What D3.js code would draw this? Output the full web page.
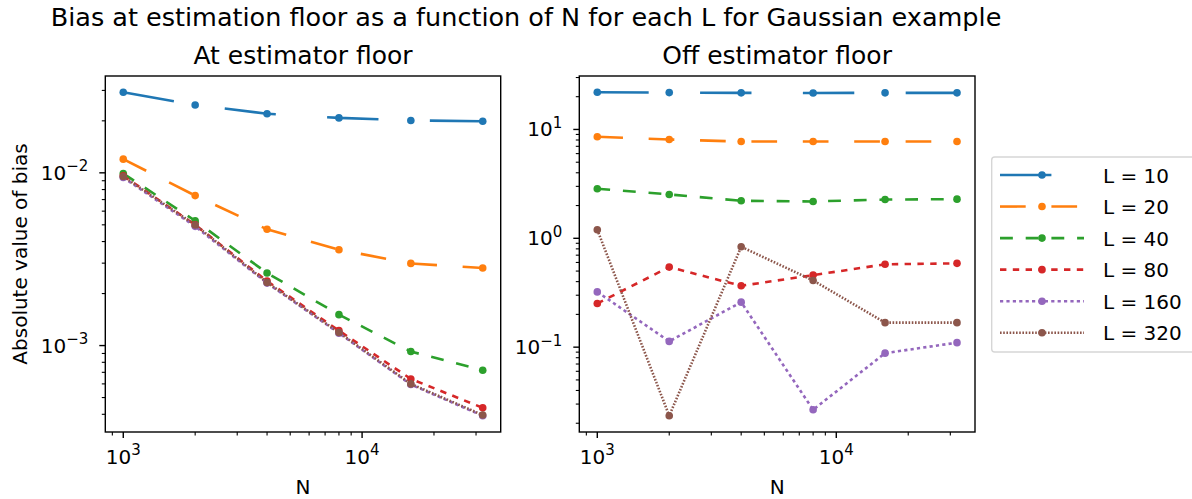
<!DOCTYPE html>
<html>
<head>
<meta charset="utf-8">
<script src="https://cdn.jsdelivr.net/npm/d3@7"></script>
<style>
  body { margin: 0; background: #fff; }
  svg { display: block; font-family: "DejaVu Sans", sans-serif; }
</style>
</head>
<body>
<div id="chart"></div>
<script>
const sampleSizes = [1000, 2000, 4000, 8000, 16000, 32000];
const seriesLabels = ['L = 10', 'L = 20', 'L = 40', 'L = 80', 'L = 160', 'L = 320'];

// |bias| at the estimator floor
const atFloorL10 = [0.0293, 0.0247, 0.0220, 0.0208, 0.0201, 0.0199];
const atFloorL20 = [0.0120, 0.00738, 0.00471, 0.00359, 0.00299, 0.00281];
const atFloorL40 = [0.0099, 0.00528, 0.00263, 0.00151, 0.000923, 0.000720];
const atFloorL80 = [0.0096, 0.0050, 0.00236, 0.00122, 0.000641, 0.000436];
const atFloorL160 = [0.0094, 0.0049, 0.00230, 0.00118, 0.000595, 0.000392];
const atFloorL320 = [0.00952, 0.00499, 0.00232, 0.00119, 0.000600, 0.000396];

// |bias| off the estimator floor
const offFloorL10 = [22.0, 21.8, 21.7, 21.6, 21.7, 21.7];
const offFloorL20 = [8.56, 8.09, 7.74, 7.74, 7.74, 7.74];
const offFloorL40 = [2.85, 2.53, 2.21, 2.18, 2.27, 2.29];
const offFloorL80 = [0.252, 0.544, 0.366, 0.459, 0.577, 0.589];
const offFloorL160 = [0.322, 0.113, 0.259, 0.0266, 0.0881, 0.110];
const offFloorL320 = [1.20, 0.0234, 0.836, 0.410, 0.168, 0.168];

const colors = ['#1f77b4', '#ff7f0e', '#2ca02c', '#d62728', '#9467bd', '#8c564b'];
const dashes = ['51.4,51.4', '25.7,25.7', '12.85,12.85', '6.4,6.4', '3.2,3.2', '1.6,1.6'];

const W = 1192, H = 499;
const panelTop = 76, panelBottom = 432;
const panels = [
  { title: 'At estimator floor', x0: 105.3, x1: 500.7, ylabel: 'Absolute value of bias',
    series: [atFloorL10, atFloorL20, atFloorL40, atFloorL80, atFloorL160, atFloorL320] },
  { title: 'Off estimator floor', x0: 579.3, x1: 975, ylabel: null,
    series: [offFloorL10, offFloorL20, offFloorL40, offFloorL80, offFloorL160, offFloorL320] }
];

const svg = d3.select('#chart').append('svg')
  .attr('width', W).attr('height', H);
svg.append('rect').attr('width', W).attr('height', H).attr('fill', '#fff');

svg.append('text')
  .attr('x', 526).attr('y', 26)
  .attr('text-anchor', 'middle')
  .style('font-size', '25.5px')
  .text('Bias at estimation floor as a function of N for each L for Gaussian example');

// matplotlib-style log autoscale: 5% margin in log space
function logDomain(values) {
  const lo = Math.log10(d3.min(values)), hi = Math.log10(d3.max(values));
  const pad = (hi - lo) * 0.05;
  return [Math.pow(10, lo - pad), Math.pow(10, hi + pad)];
}

function powLabel(sel, exp) {
  sel.append('tspan').text('10');
  sel.append('tspan')
    .attr('dy', -8.5)
    .style('font-size', '15px')
    .text(exp < 0 ? '\u2212' + (-exp) : String(exp));
}

function logTicks(domain) {
  const major = [], minor = [];
  const e0 = Math.floor(Math.log10(domain[0])), e1 = Math.ceil(Math.log10(domain[1]));
  for (let e = e0; e <= e1; e++) {
    for (let m = 1; m < 10; m++) {
      const v = m * Math.pow(10, e);
      if (v < domain[0] * 0.9999 || v > domain[1] * 1.0001) continue;
      (m === 1 ? major : minor).push({ v, e });
    }
  }
  return { major, minor };
}

panels.forEach(p => {
  const x = d3.scaleLog().domain(logDomain(sampleSizes)).range([p.x0, p.x1]);
  const y = d3.scaleLog().domain(logDomain(p.series.flat())).range([panelBottom, panelTop]);
  const g = svg.append('g');

  // series
  p.series.forEach((vals, i) => {
    const pts = sampleSizes.map((n, j) => [n, vals[j]]);
    const line = d3.line().x(d => x(d[0])).y(d => y(d[1]));
    g.append('path')
      .attr('d', line(pts))
      .attr('fill', 'none')
      .attr('stroke', colors[i])
      .attr('stroke-width', 2.6)
      .attr('stroke-dasharray', dashes[i]);
    g.selectAll(null).data(pts).join('circle')
      .attr('cx', d => x(d[0]))
      .attr('cy', d => y(d[1]))
      .attr('r', 3.8)
      .attr('fill', colors[i]);
  });

  // frame
  g.append('rect')
    .attr('x', p.x0).attr('y', panelTop)
    .attr('width', p.x1 - p.x0).attr('height', panelBottom - panelTop)
    .attr('fill', 'none').attr('stroke', '#000').attr('stroke-width', 1.4);

  // x ticks
  const xt = logTicks(x.domain());
  g.selectAll(null).data(xt.major.concat(xt.minor)).join('line')
    .attr('x1', d => x(d.v)).attr('x2', d => x(d.v))
    .attr('y1', panelBottom)
    .attr('y2', d => panelBottom + (xt.major.includes(d) ? 6 : 3.5))
    .attr('stroke', '#000').attr('stroke-width', d => xt.major.includes(d) ? 1.4 : 1.1);
  xt.major.forEach(d => {
    const t = g.append('text')
      .attr('x', x(d.v)).attr('y', 463.5)
      .attr('text-anchor', 'middle')
      .style('font-size', '20px');
    powLabel(t, d.e);
  });

  // y ticks
  const yt = logTicks(y.domain());
  g.selectAll(null).data(yt.major.concat(yt.minor)).join('line')
    .attr('y1', d => y(d.v)).attr('y2', d => y(d.v))
    .attr('x1', p.x0)
    .attr('x2', d => p.x0 - (yt.major.includes(d) ? 6 : 3.5))
    .attr('stroke', '#000').attr('stroke-width', d => yt.major.includes(d) ? 1.4 : 1.1);
  yt.major.forEach(d => {
    const t = g.append('text')
      .attr('x', p.x0 - 17).attr('y', y(d.v) + 7)
      .attr('text-anchor', 'end')
      .style('font-size', '20px');
    powLabel(t, d.e);
  });

  g.append('text')
    .attr('x', (p.x0 + p.x1) / 2).attr('y', 63.5)
    .attr('text-anchor', 'middle')
    .style('font-size', '25px')
    .text(p.title);

  g.append('text')
    .attr('x', (p.x0 + p.x1) / 2).attr('y', 493.5)
    .attr('text-anchor', 'middle')
    .style('font-size', '20px')
    .text('N');

  if (p.ylabel) {
    g.append('text')
      .attr('transform', `translate(26.5,${(panelTop + panelBottom) / 2}) rotate(-90)`)
      .attr('text-anchor', 'middle')
      .style('font-size', '20px')
      .text(p.ylabel);
  }
});

// legend
const legend = svg.append('g');
legend.append('rect')
  .attr('x', 991.7).attr('y', 157)
  .attr('width', 240).attr('height', 195)
  .attr('rx', 3)
  .attr('fill', '#fff').attr('fill-opacity', 0.8)
  .attr('stroke', '#d6d6d6').attr('stroke-width', 1.4);

seriesLabels.forEach((lab, i) => {
  const ly = 175 + i * 31.55;
  legend.append('line')
    .attr('x1', 1000).attr('x2', 1084)
    .attr('y1', ly).attr('y2', ly)
    .attr('stroke', colors[i]).attr('stroke-width', 2.6)
    .attr('stroke-dasharray', dashes[i]);
  legend.append('circle')
    .attr('cx', 1042).attr('cy', ly).attr('r', 3.8)
    .attr('fill', colors[i]);
  legend.append('text')
    .attr('x', 1103).attr('y', ly + 7.5)
    .style('font-size', '20px')
    .text(lab);
});
</script>
</body>
</html>
